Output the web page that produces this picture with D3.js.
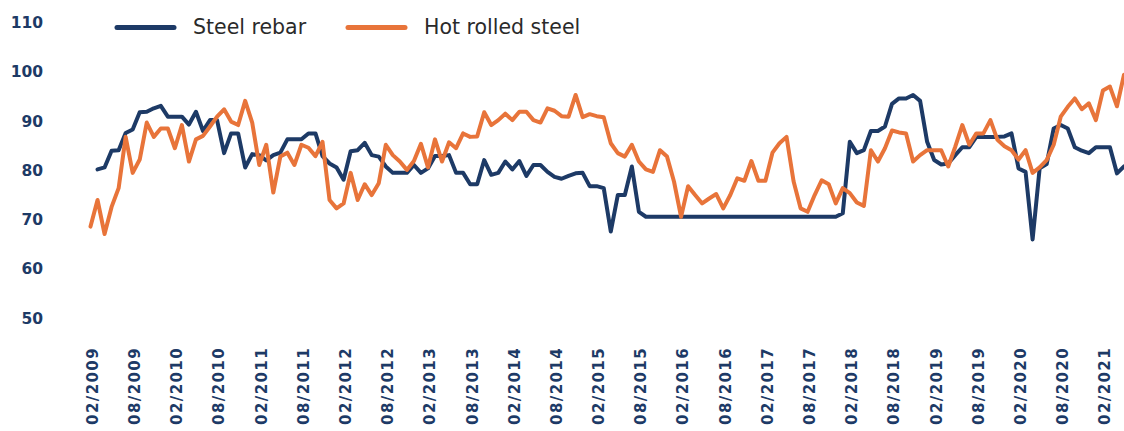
<!DOCTYPE html>
<html>
<head>
<meta charset="utf-8">
<script src="https://cdn.jsdelivr.net/npm/d3@7"></script>
<style>
  body { margin: 0; background: #fff; }
  svg { display: block; }
</style>
</head>
<body>
<div id="chart"></div>
<script>
// monthly index values, 02/2009 .. 05/2021
const months = d3.timeMonth.range(new Date(2009, 1, 1), new Date(2021, 5, 1)).map(d3.timeFormat("%m/%Y"));

const hotRolled = [
  68.6, 74.0, 67.1, 72.6, 76.4, 86.8, 79.5, 82.2, 89.7, 86.8, 88.5, 88.5,
  84.5, 89.2, 81.8, 86.3, 87.0, 88.9, 90.9, 92.4, 89.9, 89.2, 94.1, 89.7,
  81.1, 85.2, 75.5, 82.8, 83.6, 81.1, 85.2, 84.6, 82.9, 85.8, 74.0, 72.3,
  73.3, 79.5, 74.0, 77.2, 75.0, 77.4, 85.2, 83.1, 81.8, 80.1, 81.9, 85.4,
  80.6, 86.3, 81.8, 85.7, 84.5, 87.5, 86.8, 86.9, 91.8, 89.2, 90.2, 91.5,
  90.2, 91.9, 91.9, 90.2, 89.7, 92.6, 92.1, 91.0, 90.9, 95.3, 90.8, 91.4,
  91.0, 90.8, 85.5, 83.5, 82.8, 85.2, 81.8, 80.2, 79.7, 84.1, 82.8, 77.7,
  70.6, 76.8, 75.0, 73.3, 74.3, 75.2, 72.3, 75.0, 78.4, 77.9, 81.9, 77.9,
  77.9, 83.6, 85.5, 86.8, 77.8, 72.3, 71.6, 75.0, 78.0, 77.2, 73.3, 76.4,
  75.4, 73.5, 72.8, 84.1, 81.8, 84.5, 88.1, 87.7, 87.5, 81.8, 83.1, 84.1,
  84.1, 84.1, 80.8, 84.8, 89.2, 85.2, 87.5, 87.5, 90.2, 86.2, 84.9, 84.1,
  82.2, 84.1, 79.5, 80.6, 82.1, 85.2, 90.9, 92.9, 94.6, 92.4, 93.6, 90.2,
  96.2, 97.0, 93.0, 99.4
];

const rebar = [
  null, 80.2, 80.6, 84.0, 84.1, 87.6, 88.3, 91.8, 91.9, 92.6, 93.1, 90.9,
  90.9, 90.9, 89.3, 91.9, 88.0, 90.2, 90.2, 83.5, 87.5, 87.5, 80.6, 83.3,
  83.1, 82.0, 83.1, 83.6, 86.3, 86.3, 86.3, 87.5, 87.5, 82.9, 81.4, 80.6,
  78.1, 83.9, 84.1, 85.6, 83.1, 82.8, 80.8, 79.5, 79.5, 79.5, 81.1, 79.5,
  80.4, 82.9, 82.9, 83.1, 79.5, 79.5, 77.2, 77.2, 82.1, 79.1, 79.5, 81.8,
  80.2, 81.9, 78.9, 81.1, 81.1, 79.7, 78.7, 78.3, 78.9, 79.4, 79.5, 76.8,
  76.8, 76.4, 67.6, 75.0, 75.0, 80.8, 71.6, 70.6, 70.6, 70.6, 70.6, 70.6,
  70.6, 70.6, 70.6, 70.6, 70.6, 70.6, 70.6, 70.6, 70.6, 70.6, 70.6, 70.6,
  70.6, 70.6, 70.6, 70.6, 70.6, 70.6, 70.6, 70.6, 70.6, 70.6, 70.6, 71.3,
  85.8, 83.5, 84.1, 88.0, 88.0, 88.9, 93.5, 94.6, 94.6, 95.3, 94.1, 85.8,
  82.1, 81.2, 81.4, 83.1, 84.7, 84.7, 86.8, 86.8, 86.8, 86.8, 86.9, 87.5,
  80.4, 79.7, 66.0, 80.4, 81.3, 88.5, 89.2, 88.5, 84.7, 84.0, 83.5, 84.7,
  84.7, 84.7, 79.4, 80.8
];

const yTicks = [50, 60, 70, 80, 90, 100, 110];
const xTickLabels = [
  "02/2009", "08/2009", "02/2010", "08/2010", "02/2011", "08/2011", "02/2012",
  "08/2012", "02/2013", "08/2013", "02/2014", "08/2014", "02/2015", "08/2015",
  "02/2016", "08/2016", "02/2017", "08/2017", "02/2018", "08/2018", "02/2019",
  "08/2019", "02/2020", "08/2020", "02/2021"
];

const seriesNames = ["Steel rebar", "Hot rolled steel"];
const seriesColors = ["#1d3a66", "#e8743a"];

const width = 1124, height = 431;
const tickColor = "#1d3a66";

const svg = d3.select("#chart").append("svg")
    .attr("width", width)
    .attr("height", height);

const x = d3.scalePoint().domain(months).range([90.5, 1124]);
const y = d3.scaleLinear().domain([50, 110]).range([318.3, 22.5]);

// y axis, labels only
const yAxis = svg.append("g")
    .attr("transform", "translate(43,0)")
    .call(d3.axisLeft(y).tickValues(yTicks).tickSize(0).tickPadding(0));
yAxis.select(".domain").remove();
yAxis.selectAll("text")
    .attr("fill", tickColor)
    .style("font-family", "DejaVu Sans")
    .style("font-weight", "bold")
    .style("font-size", "15.5px");

// x axis, rotated labels
const xAxis = svg.append("g")
    .attr("transform", "translate(1.5,347)")
    .call(d3.axisBottom(x).tickValues(xTickLabels).tickSize(0).tickPadding(0));
xAxis.select(".domain").remove();
xAxis.selectAll("text")
    .attr("fill", tickColor)
    .attr("transform", "rotate(-90)")
    .attr("text-anchor", "end")
    .attr("x", 0)
    .attr("y", 0)
    .attr("dy", "0.36em")
    .style("font-family", "DejaVu Sans")
    .style("font-weight", "bold")
    .style("font-size", "15px")
    .style("letter-spacing", "1.4px");

const line = d3.line()
    .defined(d => d != null)
    .x((d, i) => x(months[i]))
    .y(d => y(d));

[rebar, hotRolled].forEach(function(data, k) {
    svg.append("path")
        .datum(data)
        .attr("fill", "none")
        .attr("stroke", seriesColors[k])
        .attr("stroke-width", 4)
        .attr("stroke-linejoin", "round")
        .attr("stroke-linecap", "round")
        .attr("d", line);
});

// legend
const legendX = [117, 348];
const legend = svg.append("g");
seriesNames.forEach(function(name, k) {
    legend.append("line")
        .attr("x1", legendX[k]).attr("x2", legendX[k] + 57)
        .attr("y1", 27.5).attr("y2", 27.5)
        .attr("stroke", seriesColors[k])
        .attr("stroke-width", 5)
        .attr("stroke-linecap", "round");
    legend.append("text")
        .attr("x", legendX[k] + 76)
        .attr("y", 33.5)
        .attr("fill", "#2a2a2a")
        .style("font-family", "DejaVu Sans")
        .style("font-size", "20.5px")
        .text(name);
});
</script>
</body>
</html>
